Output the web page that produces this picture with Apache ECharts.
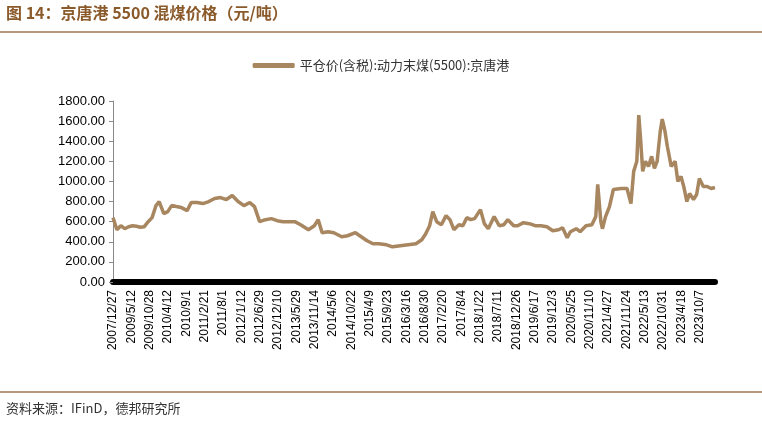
<!DOCTYPE html>
<html><head><meta charset="utf-8">
<script src="https://cdn.jsdelivr.net/npm/echarts@6/dist/echarts.min.js"></script>
<style>body{margin:0;background:#fff}#c{width:762px;height:435px}</style>
</head><body><div id="c"></div>
<script>
const tickLabels = ['2007/12/27','2009/5/12','2009/10/28','2010/4/12','2010/9/1','2011/2/21','2011/8/1','2012/1/12','2012/6/29','2012/12/10','2013/5/29','2013/11/14','2014/5/6','2014/10/22','2015/4/9','2015/9/23','2016/3/16','2016/8/30','2017/2/20','2017/8/4','2018/1/22','2018/7/11','2018/12/26','2019/6/17','2019/12/3','2020/5/25','2020/11/10','2021/4/27','2021/11/24','2022/5/13','2022/10/31','2023/4/18','2023/10/7'];
// timeline position (0..1540 across the axis) and price
const timeline = [0,10,20,30,40,50,60,70,80,90,100,110,118,130,140,150,162,175,190,200,215,230,245,260,275,290,305,320,335,350,362,375,390,405,420,435,450,465,480,500,515,525,535,550,565,585,600,620,635,650,665,680,700,715,735,755,775,790,800,810,818,828,840,852,862,872,885,895,905,915,925,940,950,960,975,988,1000,1010,1025,1035,1050,1065,1080,1095,1110,1125,1140,1150,1162,1170,1185,1195,1210,1225,1235,1240,1248,1252,1260,1270,1280,1300,1315,1325,1332,1340,1345,1350,1355,1362,1370,1378,1385,1392,1400,1405,1412,1418,1428,1438,1445,1453,1460,1468,1475,1485,1493,1500,1510,1520,1530,1540];
const price = [640,520,560,530,550,560,555,545,550,600,640,760,800,680,700,760,750,740,710,790,790,780,800,830,840,820,860,800,760,790,750,600,620,630,610,600,600,600,570,520,560,620,490,500,490,450,460,490,450,410,380,380,370,350,360,370,380,420,480,560,700,600,570,660,620,520,570,560,640,620,630,720,580,530,650,560,570,620,560,560,590,580,560,560,550,510,520,540,440,500,530,500,560,570,650,970,600,530,650,750,920,930,930,780,1100,1200,1660,1400,1100,1200,1150,1250,1130,1200,1500,1620,1500,1350,1150,1200,1000,1050,950,800,880,820,870,1030,950,950,930,940];
const seriesName = '平仓价(含税):动力末煤(5500):京唐港';
const step = 46.9;

const chart = echarts.init(document.getElementById('c'));
chart.setOption({
    animation: false,
    graphic: [
        { type: 'text', left: 6, top: 5, style: { text: '图 14：京唐港 5500 混煤价格（元/吨）', fill: '#8B5A2B', font: 'bold 16px "Noto Sans CJK SC"' } },
        { type: 'line', shape: { x1: 0, y1: 32, x2: 762, y2: 32 }, style: { stroke: '#A0764E', lineWidth: 1.5 } },
        { type: 'line', shape: { x1: 0, y1: 392, x2: 762, y2: 392 }, style: { stroke: '#A0764E', lineWidth: 1.5 } },
        { type: 'text', left: 6, top: 402, style: { text: '资料来源：IFinD，德邦研究所', fill: '#333', font: '13px "Noto Sans CJK SC"' } }
    ],
    legend: {
        top: 54, left: 'center', itemWidth: 42, itemHeight: 5, icon: 'roundRect',
        textStyle: { fontSize: 13, color: '#333', fontFamily: 'Noto Sans CJK SC' }
    },
    grid: { left: 113, right: 47, top: 101, bottom: 153 },
    xAxis: {
        type: 'value', min: 0, max: 1540, interval: step,
        splitLine: { show: false },
        axisLine: { lineStyle: { color: '#000', width: 6 } },
        axisTick: { show: false },
        axisLabel: {
            rotate: 90, fontSize: 12, color: '#000', fontFamily: 'Liberation Sans', showMaxLabel: false,
            formatter: v => tickLabels[Math.round(v / step)] || ''
        }
    },
    yAxis: {
        type: 'value', min: 0, max: 1800, interval: 200,
        splitLine: { show: false },
        axisLine: { show: true, lineStyle: { color: '#888' } },
        axisTick: { show: true, length: 4, lineStyle: { color: '#888' } },
        axisLabel: { fontSize: 13, color: '#000', fontFamily: 'Liberation Sans', formatter: v => v.toFixed(2) }
    },
    series: [{
        name: seriesName, type: 'line', showSymbol: false,
        lineStyle: { color: '#A88660', width: 3.5 }, itemStyle: { color: '#A88660' },
        data: timeline.map((t, i) => [t, price[i]])
    }]
});
</script></body></html>
